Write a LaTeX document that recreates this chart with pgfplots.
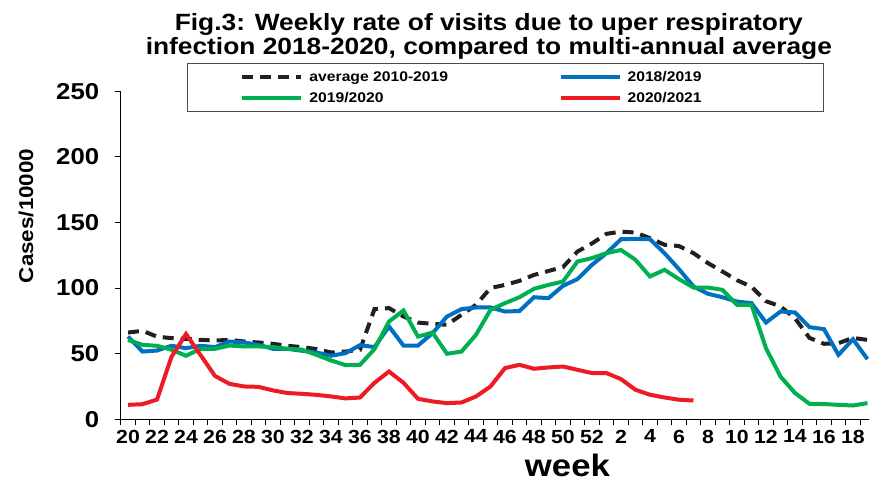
\documentclass[border=0pt]{standalone}
\usepackage{fontspec}
\setmainfont[FakeStretch=1.12]{Liberation Sans}
\usepackage{pgfplots}
\usepackage{pgfplotstable}
\pgfplotsset{compat=1.18}

\definecolor{avgc}{RGB}{35,31,32}
\definecolor{c1819}{RGB}{0,112,192}
\definecolor{c1920}{RGB}{0,176,80}
\definecolor{c2021}{RGB}{237,28,36}

% idx 0 = week 20 ... idx 32 = week 52, idx 33 = week 1 ... idx 51 = week 19
\pgfplotstableread{
idx avg   s1819 s1920
0   66.1  63.0  60.5
1   67.4  51.6  56.7
2   63.0  52.4  56.0
3   61.8  56.0  53.0
4   61.3  54.2  48.4
5   60.5  56.0  53.7
6   60.0  55.0  53.7
7   60.5  59.3  56.2
8   59.3  58.5  55.5
9   58.5  56.7  55.5
10  57.5  53.7  55.0
11  56.0  53.7  53.7
12  55.0  52.2  53.0
13  53.5  50.9  49.1
14  50.9  48.4  44.8
15  51.6  50.4  41.3
16  53.0  56.5  41.5
17  84.0  55.0  53.5
18  84.7  70.7  74.5
19  78.3  56.2  82.9
20  73.7  56.2  63.0
21  72.7  65.6  66.1
22  72.0  78.3  49.9
23  79.6  83.9  51.6
24  87.2  85.2  64.4
25  100.0 85.2  83.4
26  102.4 82.1  88.5
27  105.5 82.5  93.0
28  110.0 93.0  99.4
29  113.0 92.3  102.4
30  116.0 101.7 105.0
31  127.8 106.8 120.2
32  134.0 117.7 122.8
33  141.3 126.6 126.6
34  143.0 137.2 129.0
35  142.3 137.5 121.5
36  138.0 137.2 108.8
37  133.0 126.6 113.9
38  132.0 114.4 106.8
39  126.6 101.2 100.4
40  119.0 95.6  100.4
41  112.6 93.0  98.6
42  106.0 89.7  87.2
43  101.0 88.5  87.2
44  90.0  73.7  54.2
45  86.0  82.1  32.6
46  77.0  81.4  20.0
47  62.0  70.2  11.8
48  57.5  68.7  11.6
49  58.0  49.1  11.0
50  62.0  61.0  10.5
51  60.5  45.8  12.3
}\seasons

\pgfplotstableread{
idx s2021
0   11.0
1   11.5
2   15.0
3   47.6
4   65.0
5   49.0
6   33.0
7   27.0
8   25.0
9   24.7
10  22.0
11  20.0
12  19.4
13  18.6
14  17.4
15  15.9
16  16.6
17  27.8
18  36.4
19  27.8
20  15.6
21  13.6
22  12.3
23  12.8
24  17.4
25  25.0
26  39.0
27  41.5
28  38.5
29  39.5
30  40.2
31  37.7
32  35.2
33  35.2
34  30.6
35  22.5
36  18.7
37  16.6
38  14.9
39  14.3
}\current

\begin{document}
\begin{tikzpicture}
\begin{axis}[
  scale only axis,
  width=748pt, height=328pt,
  xmin=-0.5, xmax=51.1,
  ymin=0, ymax=250,
  axis x line=bottom, axis y line=left,
  axis line style={-, line width=1.2pt, black},
  tick style={line width=1pt, black},
  tick align=outside,
  major tick length=6pt,
  xtick={-0.5,0.5,...,50.5},
  xticklabel=\empty,
  extra x ticks={0,2,...,50},
  extra x tick labels={20,22,24,26,28,30,32,34,36,38,40,42,44,46,48,50,52,2,4,6,8,10,12,14,16,18},
  extra x tick style={major tick length=0pt},
  xticklabel style={font=\fontsize{19}{19}\selectfont\bfseries, yshift=-7pt},
  ytick={0,50,...,250},
  yticklabel style={font=\fontsize{23}{23}\selectfont\bfseries, xshift=-12pt},
  /pgf/number format/assume math mode=true,
  xlabel={week},
  xlabel style={font=\fontsize{31}{31}\selectfont\bfseries, at={(axis description cs:0.597,-0.142)}, anchor=center},
  ylabel={Cases/10000},
  ylabel style={font=\fontsize{20}{20}\selectfont\bfseries, at={(axis description cs:-0.1266,0.62)}, anchor=center},
  title={Fig.3: Weekly rate of visits due to uper respiratory\\infection 2018-2020, compared to multi-annual average},
  title style={font=\fontsize{23.5}{24.5}\selectfont\bfseries, align=center, at={(axis description cs:0.492,1.1485)}, anchor=center},
  legend columns=2,
  legend cell align=left,
  legend image code/.code={\draw[#1] (0pt,0pt) -- (59pt,0pt); \path (0pt,0pt) (63pt,0pt);},
  legend style={at={(axis description cs:0.0885,1.086)}, anchor=north west,
    draw=black!70, line width=1pt, inner xsep=53pt, inner ysep=6pt, row sep=5pt, column sep=0pt,
    font=\fontsize{14}{15}\selectfont\bfseries},
  clip=false,
]
\addplot[avgc, line width=4pt, dash pattern=on 11pt off 7pt] table[x=idx, y=avg] {\seasons};
\addlegendentry{\makebox[247pt][l]{average 2010-2019}}
\addplot[c1819, line width=4pt] table[x=idx, y=s1819] {\seasons};
\addlegendentry{\makebox[141pt][l]{2018/2019}}
\addplot[c1920, line width=4pt] table[x=idx, y=s1920] {\seasons};
\addlegendentry{\makebox[247pt][l]{2019/2020}}
\addplot[c2021, line width=4pt] table[x=idx, y=s2021] {\current};
\addlegendentry{\makebox[141pt][l]{2020/2021}}
\coordinate (bbsw) at (axis description cs:-0.1614,-0.1934);
\coordinate (bbne) at (axis description cs:1.0001,1.278);
\end{axis}
\pgfresetboundingbox
\path[use as bounding box] (bbsw) rectangle (bbne);
\end{tikzpicture}
\end{document}
